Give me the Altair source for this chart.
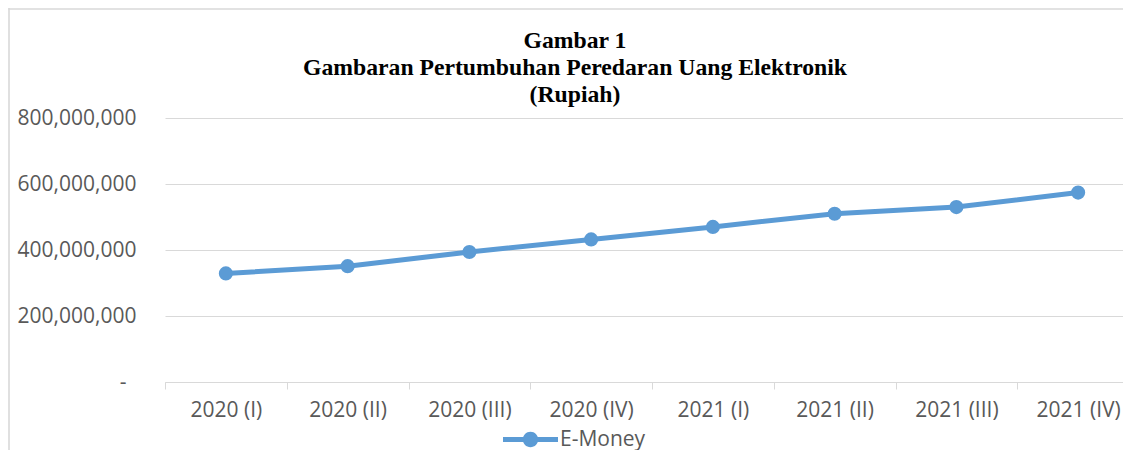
import altair as alt
import pandas as pd

periods = ["2020 (I)", "2020 (II)", "2020 (III)", "2020 (IV)",
           "2021 (I)", "2021 (II)", "2021 (III)", "2021 (IV)"]
emoney = [329000000, 351000000, 394000000, 432000000,
          470000000, 510000000, 530000000, 574000000]
series = ["E-Money"] * len(periods)
y_ticks = [0, 200000000, 400000000, 600000000, 800000000]
title_lines = ["Gambar 1",
               "Gambaran Pertumbuhan Peredaran Uang Elektronik",
               "(Rupiah)"]

df = pd.DataFrame({"periode": periods, "nilai": emoney, "seri": series})

BLUE = "#5B9BD5"
GRID = "#D9D9D9"
LABEL = "#595959"
FONT = "Open Sans"

x_enc = alt.X(
    "periode:N", sort=periods, bandPosition=0.5,
    scale=alt.Scale(type="band", range=[0, 974], paddingInner=0, paddingOuter=0),
    axis=alt.Axis(title=None, labelAngle=0, tickBand="extent", grid=False,
                  domainColor=GRID, domainWidth=1, tickColor=GRID, tickWidth=1,
                  tickSize=7, labelFont=FONT, labelFontSize=21, labelColor=LABEL,
                  labelPadding=10, labelBound=False, labelOverlap=False),
)
y_enc = alt.Y(
    "nilai:Q",
    scale=alt.Scale(domain=[0, 800000000], nice=False),
    axis=alt.Axis(title=None, values=y_ticks, domain=False, ticks=False, tickSize=0,
                  gridColor=GRID, gridWidth=1, labelFont=FONT, labelFontSize=21,
                  labelColor=LABEL,
                  labelPadding={"condition": {"test": "datum.value == 0", "value": 39},
                                "value": 29},
                  labelExpr="datum.value == 0 ? '-' : format(datum.value, ',')"),
)

base = alt.Chart(df)

line = base.mark_line(color=BLUE, strokeWidth=5).encode(x=x_enc, y=y_enc)

legend_path = ("M-1,-0.09L1,-0.09L1,0.09L-1,0.09Z"
               "M0.28,0A0.28,0.28 0 1,1 -0.28,0A0.28,0.28 0 1,1 0.28,0Z")

points = base.mark_circle(size=200, opacity=1).encode(
    x=x_enc, y=y_enc,
    color=alt.Color("seri:N", scale=alt.Scale(range=[BLUE]),
                    legend=alt.Legend(title=None, orient="none", legendX=338, legendY=294,
                                      padding=0, symbolType=legend_path, symbolSize=3025,
                                      symbolStrokeWidth=0, symbolOpacity=1,
                                      labelFont=FONT, labelFontSize=21, labelColor=LABEL,
                                      labelOffset=2)),
)

one = alt.Data(values=[{"k": 1}])
frame_left = alt.Chart(one).mark_rect(fill=GRID, strokeWidth=0).encode(
    x=alt.value(-156.8), x2=alt.value(-155.2), y=alt.value(-110), y2=alt.value(420))
frame_top = alt.Chart(one).mark_rect(fill=GRID, strokeWidth=0).encode(
    x=alt.value(-156.8), x2=alt.value(1000), y=alt.value(-109.8), y2=alt.value(-108.2))

chart = alt.layer(frame_left, frame_top, line, points).properties(
    width=958, height=264,
    padding={"left": 157, "top": 110, "right": 0, "bottom": 68},
    autosize=alt.AutoSizeParams(type="none"),
    title=alt.TitleParams(text=title_lines, font="Liberation Serif", fontSize=23.7,
                          fontWeight="bold", color="black", anchor="middle",
                          lineHeight=27, dx=-69, dy=98.5, offset=0),
).configure_view(stroke=None)

chart.save("out.html", embed_options={"renderer": "svg", "actions": False})
